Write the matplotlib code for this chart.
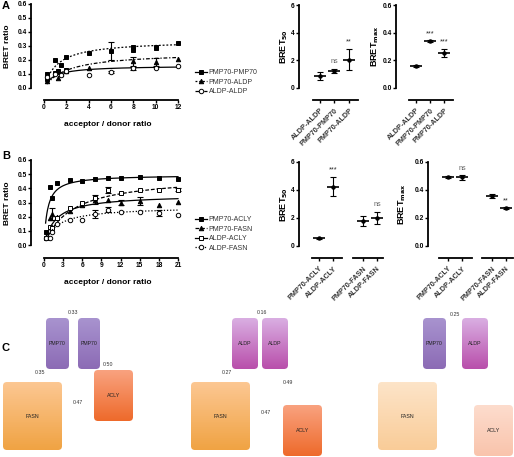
import numpy as np
import matplotlib
matplotlib.use('Agg')
import matplotlib.pyplot as plt
from matplotlib.patches import FancyBboxPatch
from matplotlib.lines import Line2D

plt.rcParams['font.family'] = ['Liberation Sans', 'DejaVu Sans']

W, H = 514, 457

# ---- panel A data ----
a_names = ['PMP70-PMP70', 'PMP70-ALDP', 'ALDP-ALDP']
a_x = [[0.25, 0.25, 1, 1, 1.25, 1.5, 2, 2, 4, 6, 8, 8, 10, 10, 12],
       [0.25, 1.25, 1.5, 2, 4, 8, 10, 12],
       [0.25, 1, 1.5, 2, 4, 6, 8, 10, 12]]
a_y = [[0.10, 0.065, 0.20, 0.11, 0.125, 0.165, 0.225, 0.13, 0.25, 0.265, 0.29, 0.27, 0.295, 0.285, 0.32],
       [0.05, 0.07, 0.10, 0.12, 0.145, 0.19, 0.185, 0.205],
       [0.08, 0.10, 0.09, 0.12, 0.09, 0.115, 0.14, 0.145, 0.155]]
a_err = [[0, 0, 0, 0, 0, 0, 0, 0, 0, 0.065, 0, 0, 0, 0, 0],
         [0, 0, 0, 0, 0, 0.03, 0.03, 0],
         [0, 0, 0, 0, 0, 0.01, 0.01, 0, 0]]

# BRET50 / BRETmax A
a_cats = ['ALDP-ALDP', 'PMP70-PMP70', 'PMP70-ALDP']
a_b50 = [0.85, 1.2, 2.05]
a_b50_err = [0.3, 0.15, 0.75]
a_b50_sig = ['', 'ns', '**']
a_bmax = [0.16, 0.34, 0.255]
a_bmax_err = [0.008, 0.008, 0.03]
a_bmax_sig = ['', '***', '***']

# ---- panel B data ----
b_names = ['PMP70-ACLY', 'PMP70-FASN', 'ALDP-ACLY', 'ALDP-FASN']
b_x = [0.25, 1, 1.33, 2, 4, 6, 8, 10, 12, 15, 18, 21]
b_y = [[0.09, 0.41, 0.33, 0.44, 0.46, 0.455, 0.465, 0.475, 0.475, 0.48, 0.475, 0.465],
       [0.06, 0.19, 0.22, 0.20, 0.24, 0.28, 0.32, 0.32, 0.30, 0.31, 0.285, 0.305],
       [0.05, 0.13, 0.12, 0.19, 0.26, 0.30, 0.33, 0.39, 0.37, 0.39, 0.39, 0.39],
       [0.05, 0.05, 0.09, 0.15, 0.18, 0.18, 0.22, 0.25, 0.235, 0.235, 0.225, 0.215]]
b_err = [[0, 0, 0, 0, 0, 0, 0, 0, 0, 0, 0, 0],
         [0, 0, 0.04, 0, 0, 0, 0.03, 0, 0.02, 0.03, 0, 0],
         [0, 0, 0, 0, 0, 0, 0, 0.02, 0, 0, 0, 0.01],
         [0, 0, 0, 0, 0, 0, 0.03, 0.02, 0, 0, 0.02, 0]]

b_cats = ['PMP70-ACLY', 'ALDP-ACLY', 'PMP70-FASN', 'ALDP-FASN']
b_b50 = [0.55, 4.25, 1.8, 2.0]
b_b50_err = [0.05, 0.65, 0.35, 0.4]
b_b50_sig = ['', '***', '', 'ns']
b_bmax = [0.495, 0.49, 0.355, 0.27]
b_bmax_err = [0.008, 0.02, 0.015, 0.008]
b_bmax_sig = ['', 'ns', '', '**']

# ---- panel C data ----
c_pairs = [('PMP70', 'PMP70', '0.33'), ('ALDP', 'ALDP', '0.16'), ('PMP70', 'ALDP', '0.25')]
c_fasn = ['0.35', '0.27', '']
c_acly = ['0.50', '0.49', '']
c_fasn_acly = ['0.47', '0.47', '']


def box(x0, y0, x1, y1):
    return [x0 / W, 1 - y1 / H, (x1 - x0) / W, (y1 - y0) / H]


def pt(px):
    return px * 0.72


def prism(ax, left_off, bottom_off):
    # spines pushed outward like GraphPad; do this before setting tick labels
    ax.spines['top'].set_visible(False)
    ax.spines['right'].set_visible(False)
    ax.spines['left'].set_position(('outward', pt(left_off)))
    ax.spines['bottom'].set_position(('outward', pt(bottom_off)))
    for s in ['left', 'bottom']:
        ax.spines[s].set_linewidth(1.3)
    ax.tick_params(direction='out', length=2, width=1.0, labelsize=4.8, pad=1)
    ax.patch.set_visible(False)


def bold_ticks(ax):
    for lab in ax.get_xticklabels() + ax.get_yticklabels():
        lab.set_fontweight('bold')


fig = plt.figure(figsize=(W / 100, H / 100), dpi=100)

a_styles = [dict(marker='s', mfc='black', ls='-'),
            dict(marker='^', mfc='black', ls=(0, (1.5, 1.5))),
            dict(marker='o', mfc='white', ls=(0, (3, 1.5, 1, 1.5)))]
b_styles = [dict(marker='s', mfc='black', ls='-'),
            dict(marker='^', mfc='black', ls=(0, (3, 1.5))),
            dict(marker='s', mfc='white', ls='-'),
            dict(marker='o', mfc='white', ls=(0, (1, 1.5)))]


def saturation(ax, xs_list, ys_list, errs_list, b50s, bmaxs, styles):
    handles = []
    for i in range(len(styles)):
        st = styles[i]
        xs = np.array(xs_list[i])
        ys = np.array(ys_list[i])
        es = np.array(errs_list[i])
        xf = np.linspace(xs.min(), xs.max(), 200)
        ax.plot(xf, bmaxs[i] * xf / (b50s[i] + xf), color='black', lw=0.9, ls=st['ls'], clip_on=False)
        m = es > 0
        ax.errorbar(xs[m], ys[m], yerr=es[m], fmt='none', ecolor='black', elinewidth=0.8,
                    capsize=2.2, capthick=0.8, clip_on=False)
        ax.plot(xs, ys, ls='none', marker=st['marker'], mfc=st['mfc'], mec='black',
                mew=0.7, ms=3.2, clip_on=False)
        handles.append(Line2D([], [], color='black', lw=0.9, ls=st['ls'], marker=st['marker'],
                              mfc=st['mfc'], mec='black', mew=0.7, ms=3.2))
    return handles


def curve_axes(rect, xs, ys, errs, b50s, bmaxs, styles, xmax, xstep, bottom_off, names, yc, leg_y):
    ax = fig.add_axes(box(*rect))
    prism(ax, 13, bottom_off)
    h = saturation(ax, xs, ys, errs, b50s, bmaxs, styles)
    ax.set_xlim(0, xmax)
    ax.set_ylim(0, 0.6)
    ax.set_xticks(range(0, xmax + 1, xstep))
    yt = np.arange(0, 0.61, 0.1)
    ax.set_yticks(yt)
    ax.set_yticklabels(['%.1f' % v for v in yt])
    bold_ticks(ax)
    xl_y = rect[3] + bottom_off + 24
    fig.text(108 / W, 1 - xl_y / H, 'acceptor / donor ratio', ha='center', va='center',
             fontsize=6, fontweight='bold')
    fig.text(8 / W, 1 - yc / H, 'BRET ratio', ha='center', va='center', rotation=90,
             fontsize=6, fontweight='bold')
    fig.legend(h, names, loc='upper left', bbox_to_anchor=(192 / W, 1 - leg_y / H), frameon=False,
               fontsize=5, handlelength=1.6, handletextpad=0.3, labelspacing=0.35, borderpad=0,
               labelcolor='#333333')
    return ax


curve_axes((44, 4, 178, 88), a_x, a_y, a_err, a_b50, a_bmax, a_styles, 12, 2, 12, a_names, 46, 66)
curve_axes((44, 160, 178, 245), [b_x] * 4, b_y, b_err, b_b50, b_bmax, b_styles, 21, 3, 13, b_names, 203, 213)


def dotplot(rect, pos, vals, errs, sigs, cats, xlim, ylim, yticks, ylabels, left_off, bottom_off,
            groups, ylab, ylab_x, sig_off):
    ax = fig.add_axes(box(*rect))
    prism(ax, left_off, bottom_off)
    for x, v, e, s in zip(pos, vals, errs, sigs):
        ax.errorbar([x], [v], yerr=[e], fmt='none', ecolor='black', elinewidth=0.8,
                    capsize=2.5, capthick=0.8, clip_on=False)
        ax.plot([x], [v], marker='_', ms=8, mew=1.2, color='black', clip_on=False)
        ax.plot([x], [v], marker='o', ms=2.2, color='black', clip_on=False)
        if s:
            ax.text(x, v + e + sig_off, s, ha='center', va='bottom', fontsize=5.2,
                    color='#666666' if s == 'ns' else '#222222')
    ax.set_xlim(*xlim)
    ax.set_ylim(*ylim)
    ax.set_yticks(yticks)
    ax.set_yticklabels(ylabels)
    ax.set_xticks(pos)
    ax.set_xticklabels(cats, rotation=45, ha='right', va='top', rotation_mode='anchor')
    ax.tick_params(axis='x', length=2.5, pad=2.5, labelsize=5.2, labelcolor='#333333')
    bold_ticks(ax)
    ax.spines['bottom'].set_bounds(*groups[0])
    for g in groups[1:]:
        ax.plot(g, [0, 0], color='black', lw=1.3, clip_on=False,
                transform=ax.spines['bottom'].get_spine_transform())
    yc = (rect[1] + rect[3]) / 2
    fig.text(ylab_x / W, 1 - yc / H, ylab, ha='center', va='center', rotation=90,
             fontsize=6.5, fontweight='bold')
    return ax


b50_lab = r'BRET$_{\mathbf{50}}$'
bmax_lab = r'BRET$_{\mathbf{max}}$'

dotplot((313, 5, 358, 88), [0, 1, 2], a_b50, a_b50_err, a_b50_sig, a_cats, (-0.48, 2.62), (0, 6),
        [0, 2, 4, 6], ['0', '2', '4', '6'], 14, 12, [(-0.48, 2.62)], b50_lab, 284, 0.3)
dotplot((409, 5, 453, 88), [0, 1, 2], a_bmax, a_bmax_err, a_bmax_sig, a_cats, (-0.5, 2.64), (0, 0.6),
        [0, 0.2, 0.4, 0.6], ['0.0', '0.2', '0.4', '0.6'], 13, 12, [(-0.5, 2.64)], bmax_lab, 375, 0.02)
dotplot((312, 162, 383, 246), [0, 1, 3.14, 4.14], b_b50, b_b50_err, b_b50_sig, b_cats, (-0.5, 4.57), (0, 6),
        [0, 2, 4, 6], ['0', '2', '4', '6'], 13, 12, [(-0.5, 1.64), (2.43, 4.57)], b50_lab, 284, 0.3)
dotplot((439, 162, 514, 246), [0, 1, 3.14, 4.14], b_bmax, b_bmax_err, b_bmax_sig, b_cats, (-0.64, 4.71), (0, 0.6),
        [0, 0.2, 0.4, 0.6], ['0.0', '0.2', '0.4', '0.6'], 11, 12, [(-0.64, 1.71), (2.43, 4.64)], bmax_lab, 402, 0.02)

# panel letters
for lab, y in [('A', 6), ('B', 156), ('C', 348)]:
    fig.text(2 / W, 1 - y / H, lab, ha='left', va='center', fontsize=8, fontweight='bold')

# ---- C: schematic ----
cax = fig.add_axes([0, 0, 1, 1])
cax.set_xlim(0, W)
cax.set_ylim(H, 0)
cax.axis('off')
cax.patch.set_visible(False)

grad = {'PMP70': ('#a893cf', '#8c6bb5'),
        'ALDP': ('#d9aee2', '#b94fab'),
        'ACLY': ('#f9a27f', '#ee6a2b'),
        'FASN': ('#fcc792', '#f0a343'),
        'FASN_pale': ('#fde4c8', '#f9cc98'),
        'ACLY_pale': ('#fddccd', '#f9c4ac')}


def rbox(x0, y0, x1, y1, key, text):
    c0, c1 = matplotlib.colors.to_rgb(grad[key][0]), matplotlib.colors.to_rgb(grad[key][1])
    t = np.linspace(0, 1, 64)[:, None]
    img = (1 - t)[:, :, None] * np.array(c0) + t[:, :, None] * np.array(c1)
    img = np.repeat(img, 2, axis=1)
    r = 4
    p = FancyBboxPatch((x0 + r, y0 + r), (x1 - x0) - 2 * r, (y1 - y0) - 2 * r,
                       boxstyle='round,pad=%g' % r, fc='none', ec='none')
    cax.add_patch(p)
    im = cax.imshow(img, extent=(x0, x1, y1, y0), aspect='auto', interpolation='bilinear')
    im.set_clip_path(p)
    cax.text((x0 + x1) / 2, (y0 + y1) / 2, text, ha='center', va='center', fontsize=3.8, color='#222222')


def note(x, y, s):
    cax.text(x, y, s, ha='center', va='center', fontsize=3.8, color='#333333')


# group 1: PMP70/PMP70
rbox(46, 318, 69, 369, 'PMP70', c_pairs[0][0])
rbox(78, 318, 100, 369, 'PMP70', c_pairs[0][1])
rbox(3, 382, 62, 450, 'FASN', 'FASN')
rbox(94, 370, 133, 421, 'ACLY', 'ACLY')
note(73, 313, c_pairs[0][2])
note(40, 373, c_fasn[0])
note(108, 365, c_acly[0])
note(78, 402, c_fasn_acly[0])

# group 2: ALDP/ALDP
rbox(232, 318, 258, 369, 'ALDP', c_pairs[1][0])
rbox(262, 318, 288, 369, 'ALDP', c_pairs[1][1])
rbox(191, 382, 250, 450, 'FASN', 'FASN')
rbox(283, 405, 322, 456, 'ACLY', 'ACLY')
note(262, 313, c_pairs[1][2])
note(227, 373, c_fasn[1])
note(288, 383, c_acly[1])
note(266, 412, c_fasn_acly[1])

# group 3: PMP70/ALDP
rbox(423, 318, 446, 369, 'PMP70', c_pairs[2][0])
rbox(462, 318, 488, 369, 'ALDP', c_pairs[2][1])
rbox(378, 382, 437, 450, 'FASN_pale', 'FASN')
rbox(474, 405, 513, 456, 'ACLY_pale', 'ACLY')
note(455, 314, c_pairs[2][2])

fig.savefig('out.png', dpi=100)
